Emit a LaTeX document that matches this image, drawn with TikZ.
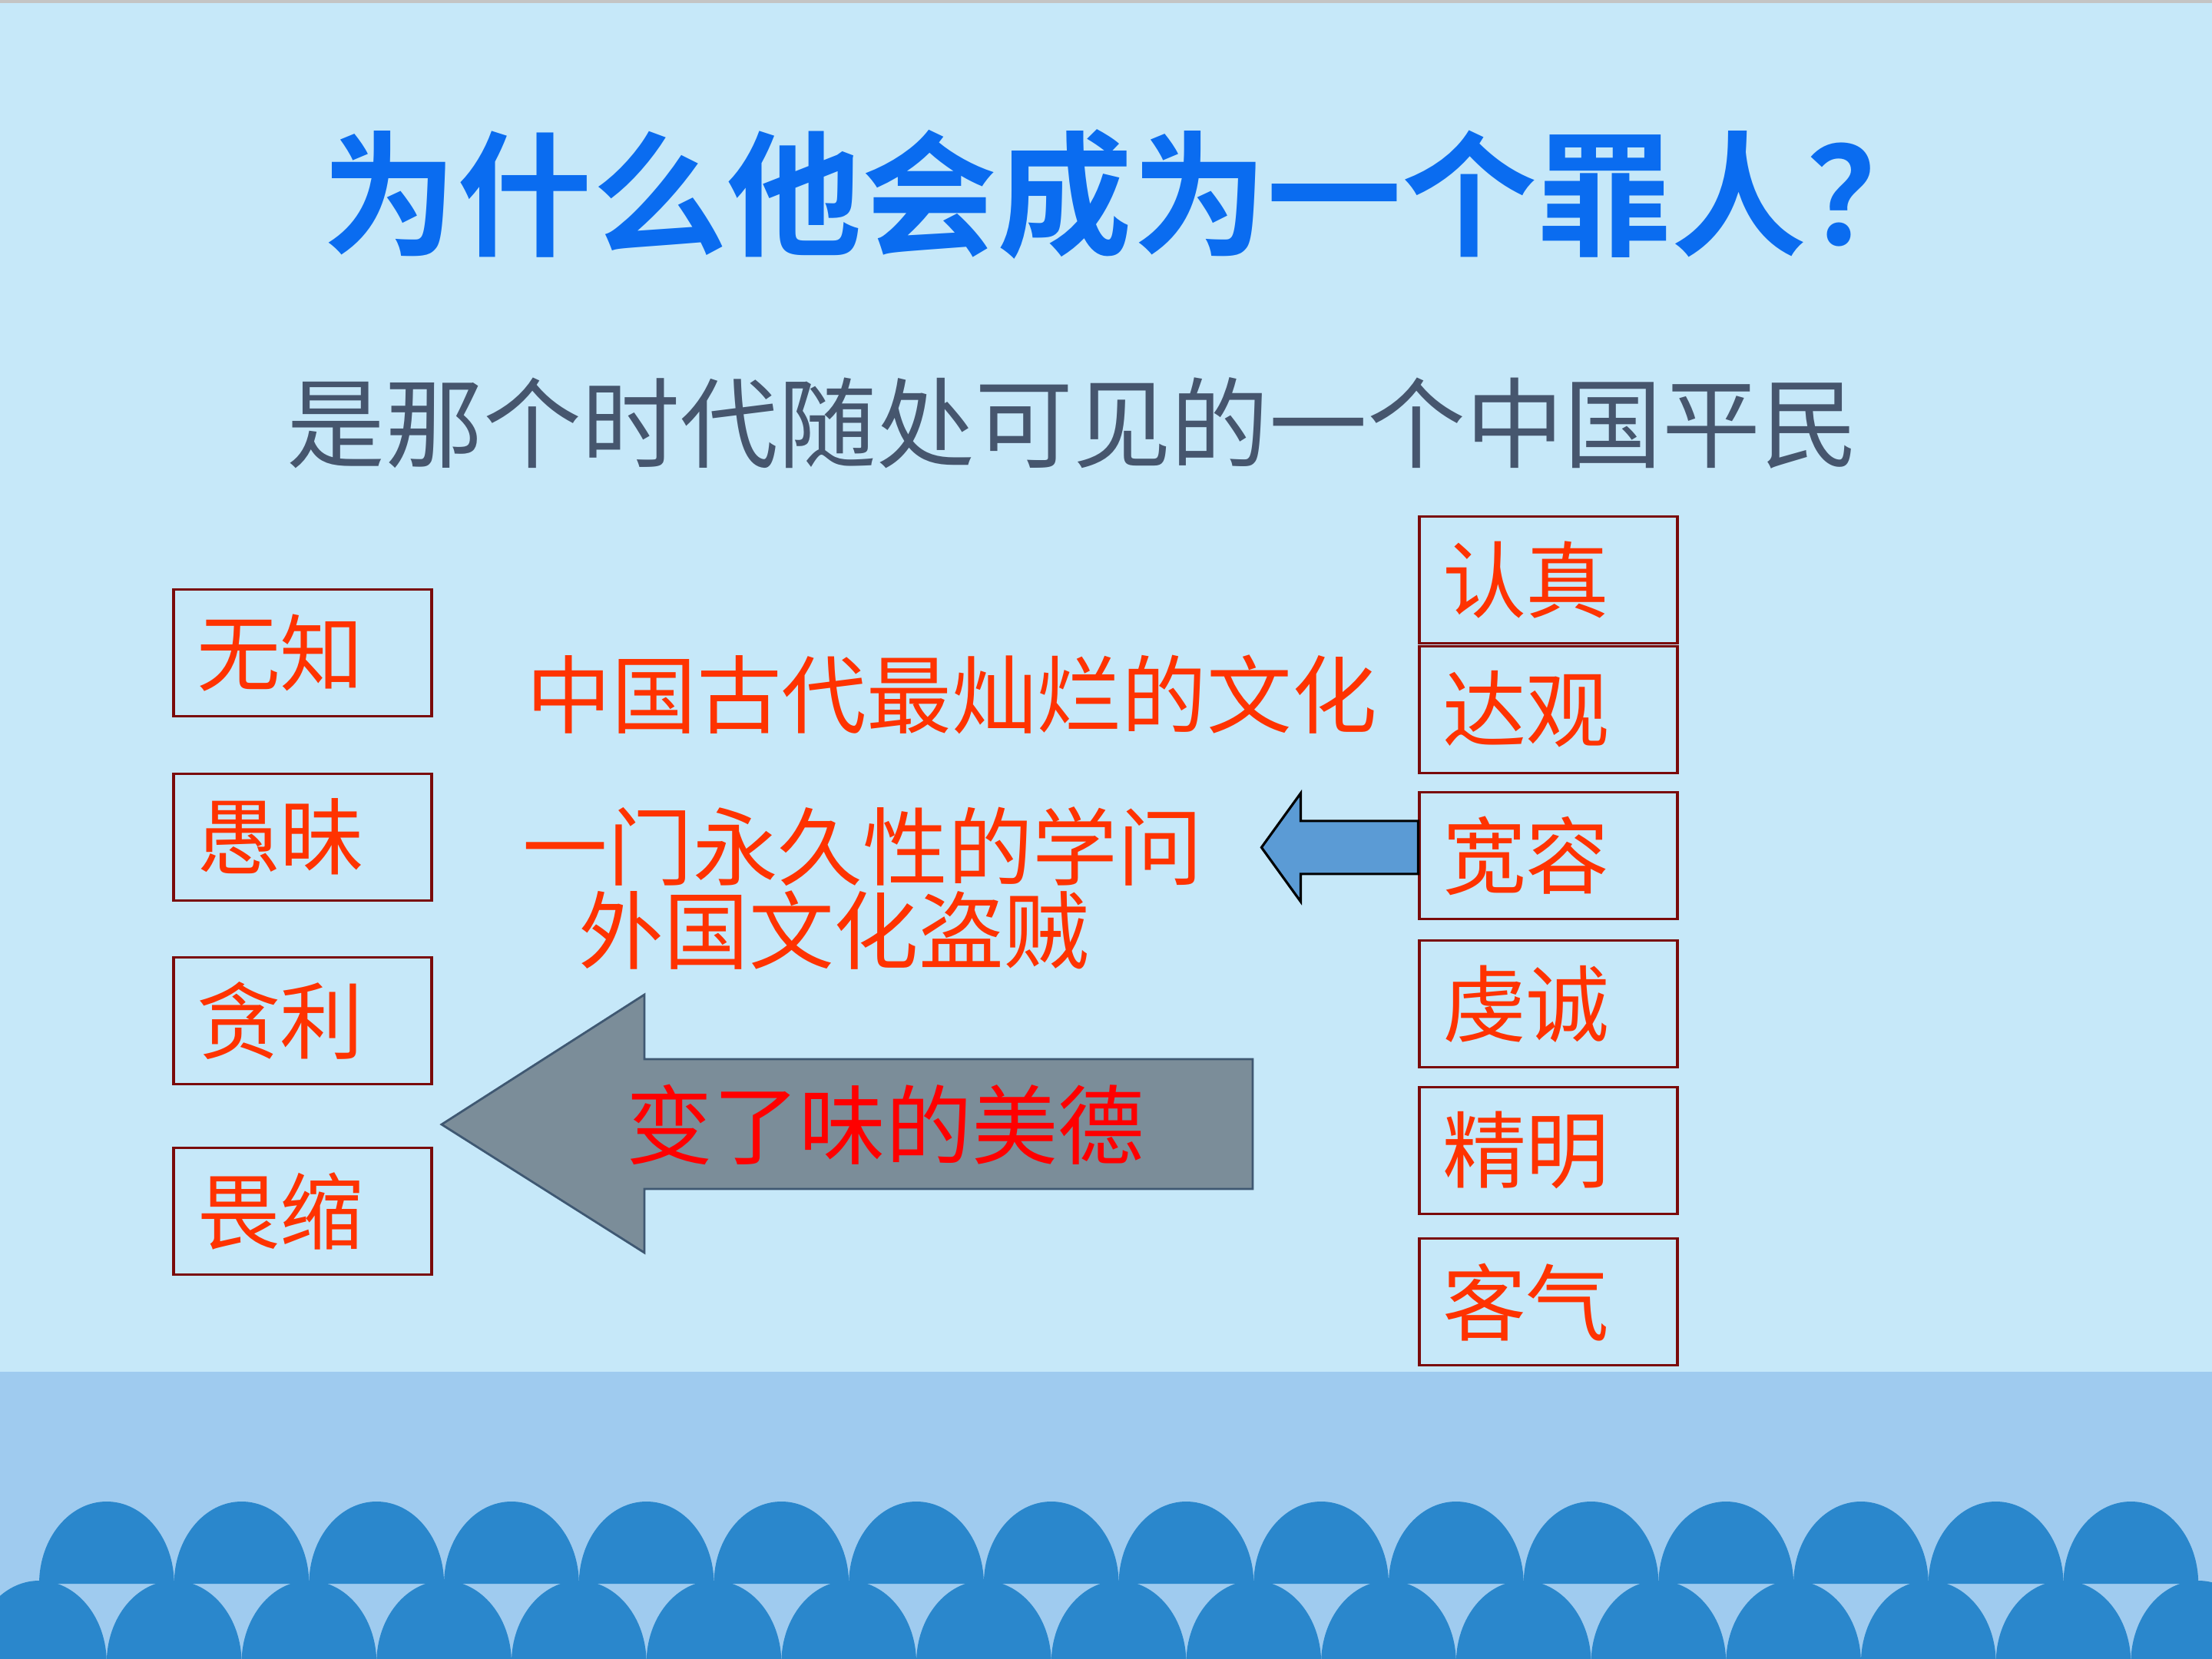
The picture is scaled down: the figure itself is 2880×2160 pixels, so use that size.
\documentclass[tikz,border=0pt]{standalone}
\usepackage{fontspec}
\newfontfamily\cjk{Noto Sans CJK SC}[BoldFont={Noto Sans CJK SC Bold}]
\usetikzlibrary{positioning}

\definecolor{bgblue}{HTML}{C6E8F9}
\definecolor{topgray}{HTML}{C4C4C4}
\definecolor{bandblue}{HTML}{9FCBEF}
\definecolor{domeblue}{HTML}{2A87CC}
\definecolor{titleblue}{HTML}{0A6CF0}
\definecolor{subgray}{HTML}{46566E}
\definecolor{textred}{HTML}{FF3300}
\definecolor{meidered}{HTML}{FF0000}
\definecolor{boxred}{HTML}{7A0A0A}
\definecolor{arrowblue}{HTML}{5B9BD5}
\definecolor{arrowgray}{HTML}{7B8D99}
\definecolor{arrowline}{HTML}{3F5872}

\begin{document}
\begin{tikzpicture}[x=0.1mm, y=-0.1mm,
    box/.style={draw=boxred, line width=0.9pt, minimum height=1.65cm,
        text width=2.76cm, inner xsep=0.3cm, inner ysep=0pt, align=left,
        text=textred, font=\cjk\fontsize{31pt}{31pt}\selectfont},
    redline/.style={anchor=west, inner sep=0pt, text=textred,
        font=\cjk\fontsize{31.5pt}{32pt}\selectfont}]

    % Fons i onades
    \clip (0,0) rectangle (2880,2160);
    \fill[bgblue] (0,0) rectangle (2880,2160);
    \fill[topgray] (0,0) rectangle (2880,4);
    \fill[bandblue] (0,1786) rectangle (2880,2160);
    \foreach \i in {0,...,15}
        \fill[domeblue] ({51+175.7*\i},2062)
            arc[start angle=180, end angle=360, x radius=87.85, y radius=107] -- cycle;
    \foreach \i in {0,...,16}
        \fill[domeblue] ({51+175.7*\i-87.85},2165)
            arc[start angle=180, end angle=360, x radius=87.85, y radius=107]
            -- ++(0,60) -- ++(-175.7,0) -- cycle;

    % Titol i subtitol
    \node[anchor=west, inner sep=0pt, text=titleblue, font=\cjk\bfseries\fontsize{50pt}{50pt}\selectfont]
        (titol) at (419,253) {为什么他会成为一个罪人？};
    \node[inner sep=0pt, text=subgray, font=\cjk\fontsize{36.4pt}{37pt}\selectfont]
        (subtitol) at (1397,551) {是那个时代随处可见的一个中国平民};

    % Caixes de l'esquerra
    \node[box] (wuzhi) at (394,850) {无知};
    \node[box, below=0.715cm of wuzhi] (yumei) {愚昧};
    \node[box, below=0.715cm of yumei] (tanli) {贪利};
    \node[box, below=0.795cm of tanli] (weisuo) {畏缩};

    % Caixes de la dreta
    \node[box] (renzhen) at (2016,755) {认真};
    \node[box, below=0.005cm of renzhen] (daguan) {达观};
    \node[box, below=0.225cm of daguan] (kuanrong) {宽容};
    \node[box, below=0.245cm of kuanrong] (qiancheng) {虔诚};
    \node[box, below=0.225cm of qiancheng] (jingming) {精明};
    \node[box, below=0.295cm of jingming] (keqi) {客气};

    % Textos del mig
    \node[redline] (wenhua) at (685,904) {中国古代最灿烂的文化};
    \node[redline] (xuewen) at (680,1102) {一门永久性的学问};
    \node[redline] (daozei) at (753,1212) {外国文化盗贼};

    % Fletxa petita
    \filldraw[fill=arrowblue, draw=black, line width=0.9pt]
        (kuanrong.west) ++(0,-45.5) -- ++(-153,0) -- ++(0,-36) -- ++(-51,70.5)
        -- ++(51,70.5) -- ++(0,-36) -- ++(153,0) -- cycle;

    % Fletxa gran
    \filldraw[fill=arrowgray, draw=arrowline, line width=0.8pt]
        (575,1464) -- (839,1295) -- (839,1379) -- (1631,1379) -- (1631,1548)
        -- (839,1548) -- (839,1631) -- cycle;
    \node[inner sep=0pt, text=meidered, font=\cjk\fontsize{32pt}{32pt}\selectfont]
        (meide) at (1153,1464) {变了味的美德};
\end{tikzpicture}
\end{document}
